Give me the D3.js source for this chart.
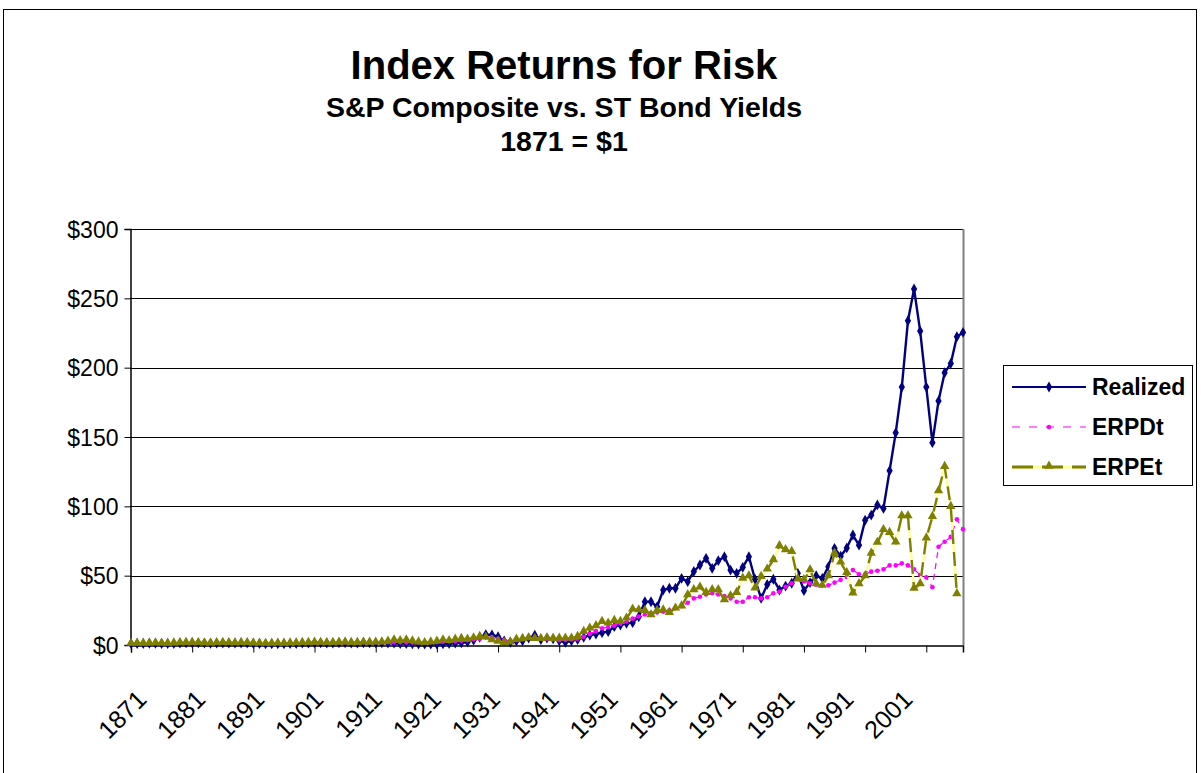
<!DOCTYPE html>
<html>
<head>
<meta charset="utf-8">
<script src="https://cdn.jsdelivr.net/npm/d3@7"></script>
<style>
  html, body { margin: 0; padding: 0; background: #fff; }
  svg { display: block; font-family: Arial, "Liberation Sans", sans-serif; }
</style>
</head>
<body>
<svg id="chart" width="1201" height="773"></svg>
<script>
// ---------- data ----------
const years = d3.range(1871, 2008);
const xLabels = ["1871","1881","1891","1901","1911","1921","1931","1941","1951","1961","1971","1981","1991","2001"];
const yTicks = [0, 50, 100, 150, 200, 250, 300];
const seriesNames = ["Realized", "ERPDt", "ERPEt"];

const realized = [
  1.0,1.1,1.1,1.2,1.2,1.1,1.0,1.1,1.3,1.5,
  1.6,1.5,1.4,1.2,1.3,1.4,1.4,1.3,1.4,1.3,
  1.1,1.0,0.8,0.8,0.9,0.9,1.0,1.1,1.3,1.3,
  1.5,1.5,1.3,1.3,1.5,1.6,1.3,1.3,1.6,1.5,
  1.5,1.5,1.4,1.3,1.0,1.1,0.9,0.7,0.7,0.6,
  0.6,0.9,1.0,1.3,1.6,2.2,3.5,5.5,7.5,7.2,
  6.0,3.0,2.0,2.8,3.0,5.0,7.0,4.0,5.0,4.5,
  3.0,2.0,3.0,4.0,5.5,7.2,7.9,8.9,9.6,13.2,
  14.4,15.6,16.1,20.4,31.2,31.2,27.6,39.7,40.9,40.9,
  48,45.7,53,57.7,62.5,55.3,60.8,63.7,54,51.7,
  56,63.7,47.4,33.6,43.7,47.4,39.7,42.5,44.5,51.7,
  39.2,45,50,48,56.5,69.7,64,70,79.3,72,
  90,93.7,101,98.5,125.7,153,186,233.8,256.7,226.4,
  186,145.9,176,196.3,203,222.3,225.4
];
const erpdt = [
  1.0,1.0,1.1,1.1,1.2,1.2,1.2,1.3,1.3,1.4,
  1.4,1.4,1.4,1.4,1.5,1.5,1.5,1.5,1.6,1.6,
  1.5,1.5,1.4,1.4,1.4,1.5,1.5,1.6,1.6,1.7,
  1.7,1.8,1.8,1.8,1.9,1.9,1.9,1.9,2.0,2.0,
  2.0,2.0,2.0,1.9,1.9,1.9,1.8,1.8,1.9,2.0,
  2.1,2.3,2.5,2.8,3.1,3.5,4.0,4.5,5.5,5.5,
  4.5,3.5,3.0,3.5,4.0,5.0,5.5,4.5,4.5,4.0,
  3.5,3.7,4.0,4.5,6.0,8.0,10,12,13,14,
  15.5,17,19,20.5,22,23,23.5,24,25,26.5,
  28,30.5,33.6,34.8,36.5,37.3,36.5,35.3,33.6,31.2,
  31.2,34.4,34.4,33.6,34.4,37.3,38.4,42,44.5,48,
  46,44.5,43.5,43,43,45,47,49,54,51,
  51,52.9,53.5,54.6,57.4,57.4,58.9,57.4,54.6,50.5,
  48.8,41.6,70.9,74.5,78,90.6,83.4
];
const erpet = [
  1.0,1.2,1.1,1.3,1.4,1.2,1.1,1.3,1.5,1.6,
  1.7,1.5,1.4,1.3,1.5,1.6,1.5,1.4,1.6,1.5,
  1.3,1.2,1.0,1.1,1.2,1.1,1.3,1.4,1.6,1.6,
  1.8,1.7,1.5,1.6,1.8,1.9,1.6,1.6,1.9,1.8,
  1.9,2.0,2.5,3.5,3.0,3.5,2.8,2.0,1.5,2.0,
  2.5,3.5,3.0,4.0,4.5,4.0,5.0,6.0,5.5,3.5,
  2.5,1.5,2.0,4.0,4.5,5.0,4.5,4.5,5.0,4.5,
  4.8,4.8,4.8,6,9.6,12,13.7,16.8,15.6,17.5,
  16.8,19.2,25.7,25.2,24.7,21.6,24.7,25.2,23.3,26.4,
  28,36,39.7,41.6,37.7,39.7,39.7,32.4,35.3,37.7,
  48,49.7,40.9,49.2,54.6,61.3,71.4,68.5,67.3,47.4,
  47,54,44,42.8,49.7,66,59.6,52,37.3,44,
  49.7,66,73.8,83,81,74,93,93,40.8,44,
  77,92.5,111,128.6,99.7,36.8,null
];

// ---------- layout ----------
const svg = d3.select("#chart");
const plot = { left: 130, right: 963, top: 229, bottom: 645 };

const x = d3.scalePoint().domain(years).range([plot.left + 1, plot.right]);
const y = d3.scaleLinear().domain([0, 300]).range([plot.bottom, plot.top]);
const xLab = d3.scalePoint().domain(xLabels).range([148, 914]);

// outer border
svg.append("rect").attr("x", 3.5).attr("y", 9.5).attr("width", 1193).attr("height", 790)
  .attr("fill", "#fff").attr("stroke", "#000").attr("stroke-width", 1);

// titles
const titles = svg.append("g").attr("text-anchor", "middle").attr("font-weight", "bold").attr("fill", "#000");
titles.append("text").attr("x", 564).attr("y", 79).attr("font-size", 40).text("Index Returns for Risk");
titles.append("text").attr("x", 564).attr("y", 117).attr("font-size", 28.5).text("S&P Composite vs. ST Bond Yields");
titles.append("text").attr("x", 564).attr("y", 151).attr("font-size", 28.5).text("1871 = $1");

// gridlines
svg.append("g").selectAll("line").data(yTicks.filter(d => d > 0)).join("line")
  .attr("x1", plot.left).attr("x2", plot.right)
  .attr("y1", d => Math.round(y(d)) + 0.5).attr("y2", d => Math.round(y(d)) + 0.5)
  .attr("stroke", "#000").attr("stroke-width", 1);

// right plot border
svg.append("line").attr("x1", plot.right + 0.5).attr("x2", plot.right + 0.5)
  .attr("y1", plot.top).attr("y2", plot.bottom).attr("stroke", "#808080").attr("stroke-width", 2);

// y axis
const yAxis = d3.axisLeft(y).tickValues(yTicks).tickSize(6).tickPadding(6)
  .tickFormat(d => "$" + d);
const gy = svg.append("g").attr("transform", `translate(${plot.left + 0.5},0)`).call(yAxis);
gy.select(".domain").attr("stroke", "#000").attr("stroke-width", 1.5);
gy.selectAll(".tick line").attr("stroke", "#000");
gy.selectAll(".tick text").attr("font-size", 23).attr("font-family", "Arial, 'Liberation Sans', sans-serif")
  .attr("fill", "#000").attr("dy", "0.36em").attr("x", -12);

// x axis (ticks every 10 years)
const xAxis = d3.axisBottom(x).tickValues(years.filter(d => (d - 1871) % 10 === 0)).tickSize(7).tickFormat("");
const gx = svg.append("g").attr("transform", `translate(0,${plot.bottom + 0.5})`).call(xAxis);
gx.select(".domain").attr("stroke", "#000").attr("stroke-width", 1.5);
gx.selectAll(".tick line").attr("stroke", "#000");

// x labels (rotated)
svg.append("g").selectAll("text").data(xLabels).join("text")
  .attr("transform", d => `translate(${xLab(d)},701) rotate(-45)`)
  .attr("text-anchor", "end").attr("font-size", 25).attr("fill", "#000")
  .text(d => d);

// ---------- series ----------
const navy = "#000080", magenta = "#ff00ff", olive = "#808000", paleYellow = "#ffff99";
const lineGen = d3.line().defined(d => d.v != null).x(d => x(d.year)).y(d => y(d.v));
const toPts = arr => years.map((yr, i) => ({ year: yr, v: arr[i] }));

const pR = toPts(realized), pD = toPts(erpdt), pE = toPts(erpet);
const gS = svg.append("g");

// Realized
gS.append("path").datum(pR).attr("d", lineGen).attr("fill", "none")
  .attr("stroke", navy).attr("stroke-width", 2.4).attr("stroke-linejoin", "round");
gS.append("g").selectAll("path").data(pR.filter(d => d.v != null)).join("path")
  .attr("d", d3.symbol(d3.symbolDiamond, 34))
  .attr("transform", d => `translate(${x(d.year)},${y(d.v)})`).attr("fill", navy);

// ERPDt
gS.append("path").datum(pD).attr("d", lineGen).attr("fill", "none")
  .attr("stroke", magenta).attr("stroke-width", 1.2).attr("stroke-dasharray", "6,5");
gS.append("g").selectAll("circle").data(pD.filter(d => d.v != null)).join("circle")
  .attr("cx", d => x(d.year)).attr("cy", d => y(d.v)).attr("r", 2.3).attr("fill", magenta);

// ERPEt
gS.append("path").datum(pE).attr("d", lineGen).attr("fill", "none")
  .attr("stroke", paleYellow).attr("stroke-width", 2.4);
gS.append("path").datum(pE).attr("d", lineGen).attr("fill", "none")
  .attr("stroke", olive).attr("stroke-width", 2.4).attr("stroke-dasharray", "14,8");
gS.append("g").selectAll("path").data(pE.filter(d => d.v != null)).join("path")
  .attr("d", d3.symbol(d3.symbolTriangle, 38))
  .attr("transform", d => `translate(${x(d.year)},${y(d.v) - 0.5})`).attr("fill", olive);

// ---------- legend ----------
const lg = svg.append("g");
lg.append("rect").attr("x", 1003.5).attr("y", 365.5).attr("width", 189).attr("height", 120)
  .attr("fill", "#fff").attr("stroke", "#000").attr("stroke-width", 1);
const ly = d3.scalePoint().domain(seriesNames).range([387, 467]);
const lx1 = 1012, lx2 = 1086, lm = 1049;
// Realized
lg.append("line").attr("x1", lx1).attr("x2", lx2).attr("y1", ly("Realized")).attr("y2", ly("Realized"))
  .attr("stroke", navy).attr("stroke-width", 2);
lg.append("path").attr("d", d3.symbol(d3.symbolDiamond, 34)).attr("transform", `translate(${lm},${ly("Realized")})`).attr("fill", navy);
// ERPDt
lg.append("line").attr("x1", lx1).attr("x2", lx2).attr("y1", ly("ERPDt")).attr("y2", ly("ERPDt"))
  .attr("stroke", magenta).attr("stroke-width", 1.2).attr("stroke-dasharray", "8,9");
lg.append("circle").attr("cx", lm).attr("cy", ly("ERPDt")).attr("r", 2.3).attr("fill", magenta);
// ERPEt
lg.append("line").attr("x1", lx1).attr("x2", lx2).attr("y1", ly("ERPEt")).attr("y2", ly("ERPEt"))
  .attr("stroke", paleYellow).attr("stroke-width", 3);
lg.append("line").attr("x1", lx1).attr("x2", lx2).attr("y1", ly("ERPEt")).attr("y2", ly("ERPEt"))
  .attr("stroke", olive).attr("stroke-width", 3).attr("stroke-dasharray", "21,9");
lg.append("path").attr("d", d3.symbol(d3.symbolTriangle, 38)).attr("transform", `translate(${lm},${ly("ERPEt") - 1})`).attr("fill", olive);
lg.selectAll("text.lab").data(seriesNames).join("text").attr("class", "lab")
  .attr("x", 1092).attr("y", d => ly(d)).attr("dy", "0.36em")
  .attr("font-size", 23).attr("font-weight", "bold").attr("fill", "#000").text(d => d);
</script>
</body>
</html>
